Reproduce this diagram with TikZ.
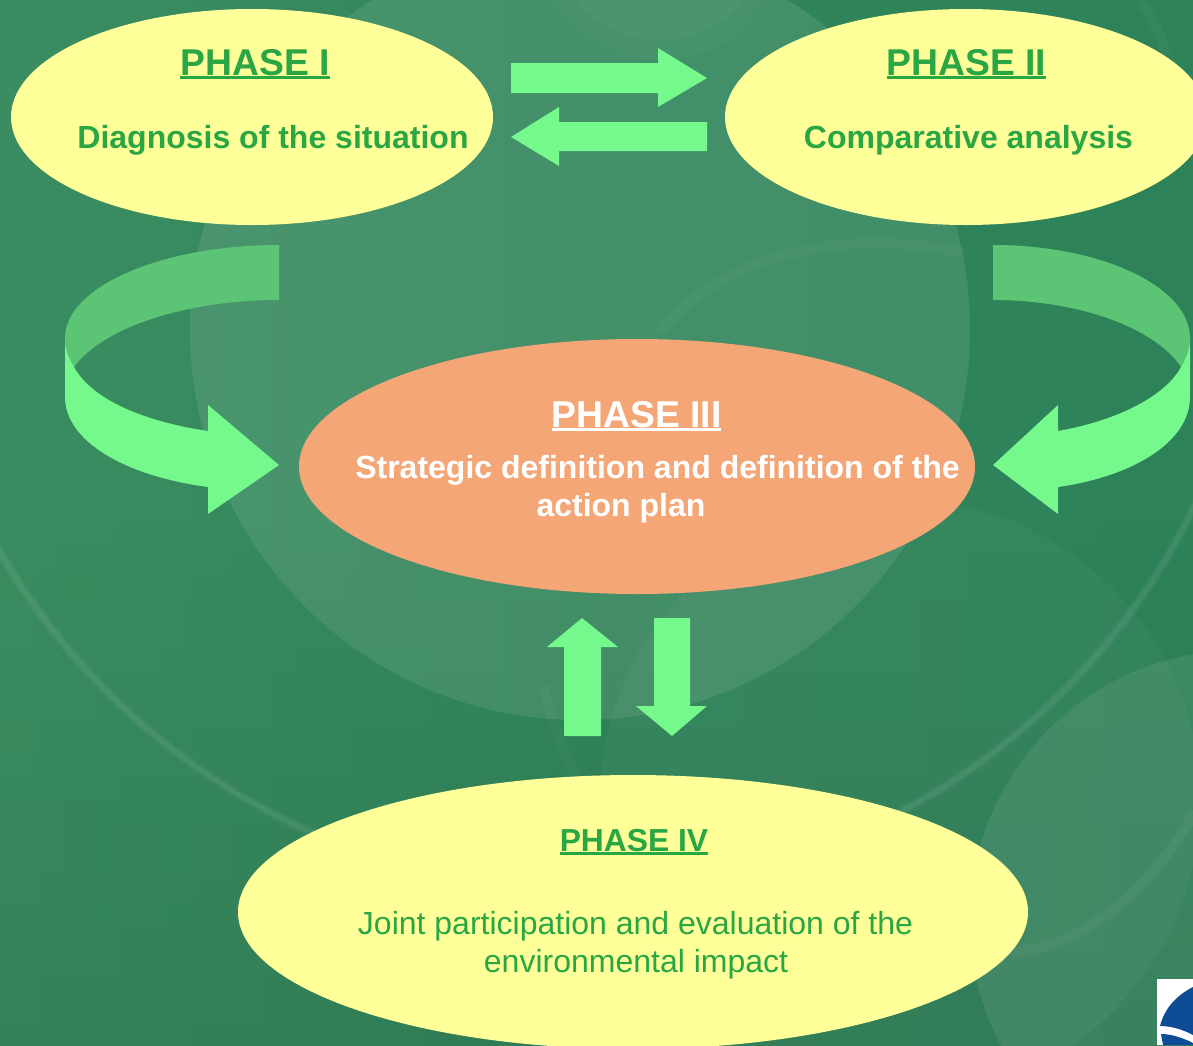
\documentclass[tikz,border=0pt]{standalone}
\usepackage{fontspec}
\setmainfont{Liberation Sans}
\definecolor{bgleft}{HTML}{3A8D60}
\definecolor{bgright}{HTML}{2D8259}
\definecolor{yel}{HTML}{FFFF99}
\definecolor{org}{HTML}{F4A677}
\definecolor{arrowlight}{HTML}{75F88C}
\definecolor{arrowdim}{HTML}{5CC475}
\definecolor{txtgreen}{HTML}{2AA645}
\definecolor{logoblue}{HTML}{0F4C96}
\newcommand{\ulin}[1]{\setbox0\hbox{#1}\rlap{\rule[-3.6pt]{\wd0}{2.6pt}}\box0}
\tikzset{
  x=1pt,y=-1pt,
  blob/.style={fill=yel},
  blockarrow/.style={fill=arrowlight,draw=none},
  ribbon/.style={fill=arrowdim,draw=none},
  ttl/.style={anchor=base,inner sep=0pt,font=\fontsize{37.3}{40}\selectfont\bfseries,text=txtgreen},
  sub/.style={anchor=base,inner sep=0pt,font=\fontsize{32}{36}\selectfont\bfseries,text=txtgreen},
  ring/.style={draw=white,draw opacity=.04,line width=10pt,line cap=round},
  ringcore/.style={draw=white,draw opacity=.06,line width=5pt,line cap=round},
  disc/.style={fill=white,fill opacity=.09},
}
\begin{document}
\begin{tikzpicture}
\useasboundingbox (0,0) rectangle (1193,1045);
% background
\shade[left color=bgleft,right color=bgright,middle color=bgright!70!bgleft] (0,0) rectangle (1193,1045);
\foreach \i in {0,...,21}{
  \fill[black,fill opacity=\i*0.0035] (0,{500+\i*25}) rectangle (1193,{525+\i*25});
}
\begin{scope}
\clip (0,0) rectangle (1193,1045);
\fill[disc,fill opacity=.035] (900,800) circle[radius=300];
\fill[disc] (580,330) circle[radius=390];
\fill[disc,fill opacity=.025] (660,-70) circle[radius=130];
\fill[disc,fill opacity=.025] (660,-70) circle[radius=110];
\fill[disc,fill opacity=.08] (1240,920) circle[radius=270];
\draw[ring] (585,215) circle[radius=675];
\draw[ringcore] (585,215) circle[radius=675];
% upper arc of the second ring
\draw[ring,draw opacity=.035] (662,330) .. controls (700,280) and (780,245) .. (870,243) .. controls (900,243) and (930,246) .. (960,252);
\draw[ring,draw opacity=.03] (545,690) .. controls (552,720) and (562,750) .. (574,772);
% lower right ring
\draw[ring] (1014,952) .. controls (1085,945) and (1150,890) .. (1193,815);
% top right streak
\draw[ring] (1140,0) .. controls (1150,15) and (1160,30) .. (1165,50);
\end{scope}
% ellipses
\fill[blob] (252,117) ellipse[x radius=241,y radius=108];
\fill[blob] (966,117) ellipse[x radius=241,y radius=108];
\fill[org] (637,466.5) ellipse[x radius=338,y radius=127.5];
\fill[blob] (633,912) ellipse[x radius=395,y radius=137];
% straight arrows
\fill[blockarrow] (511,63) -- (658,63) -- (658,48) -- (707,78) -- (658,107) -- (658,93) -- (511,93) -- cycle;
\fill[blockarrow] (707,122) -- (559,122) -- (559,107) -- (511,137) -- (559,166) -- (559,151) -- (707,151) -- cycle;
\fill[blockarrow] (564,736) -- (564,647) -- (547,647) -- (582,618) -- (618,647) -- (601,647) -- (601,736) -- cycle;
\fill[blockarrow] (654,618) -- (654,706) -- (636,706) -- (672,736) -- (707,706) -- (690,706) -- (690,618) -- cycle;
% left curved arrow
\fill[ribbon] (279,245) .. controls (161,245) and (65,287) .. (65,338)
  .. controls (65,349) and (69,359) .. (74,367)
  .. controls (101,329) and (183,300) .. (279,300) -- cycle;
\fill[blockarrow] (65,338) -- (65,397) .. controls (65,441) and (125,476) .. (208,487)
  -- (208,514) -- (279,465) -- (208,405) -- (208,431)
  .. controls (134,420) and (89,395) .. (74,367)
  .. controls (69,359) and (65,349) .. (65,338) -- cycle;
% right curved arrow
\fill[ribbon] (993,245) .. controls (1102,245) and (1190,287) .. (1190,338)
  .. controls (1190,349) and (1186,359) .. (1181,367)
  .. controls (1156,329) and (1081,300) .. (993,300) -- cycle;
\fill[blockarrow] (1190,338) -- (1190,397) .. controls (1190,441) and (1135,476) .. (1058,487)
  -- (1058,514) -- (993,465) -- (1058,405) -- (1058,431)
  .. controls (1120,420) and (1166,395) .. (1181,367)
  .. controls (1186,359) and (1190,349) .. (1190,338) -- cycle;
% logo
\fill[white] (1157,979) rectangle (1193,1045);
\fill[logoblue] (1193,987) .. controls (1175,996) and (1164,1010) .. (1160,1026) .. controls (1170,1026) and (1182,1029) .. (1193,1035) -- cycle;
\fill[logoblue] (1161,1034) .. controls (1172,1034) and (1183,1038) .. (1193,1043) -- (1193,1045) -- (1163,1045) -- cycle;
% text
\node[ttl] (p1) at (255,75) {\ulin{PHASE I}};
\node[sub] (p1s) at (273,148) {Diagnosis of the situation};
\node[ttl] (p2) at (966.5,75) {\ulin{PHASE II}};
\node[sub] (p2s) at (968.5,148) {Comparative analysis};
\node[ttl,text=white] (p3) at (636.5,427) {\ulin{PHASE III}};
\node[sub,text=white] (p3a) at (657.5,478) {Strategic definition and definition of the};
\node[sub,text=white] (p3b) at (621,516) {action plan};
\node[ttl,font=\fontsize{31.8}{36}\selectfont\bfseries] (p4) at (634,851) {\ulin{PHASE IV}};
\node[sub,font=\fontsize{32}{36}\selectfont] (p4a) at (635.5,934) {Joint participation and evaluation of the};
\node[sub,font=\fontsize{32}{36}\selectfont] (p4b) at (636,972) {environmental impact};
\end{tikzpicture}
\end{document}
